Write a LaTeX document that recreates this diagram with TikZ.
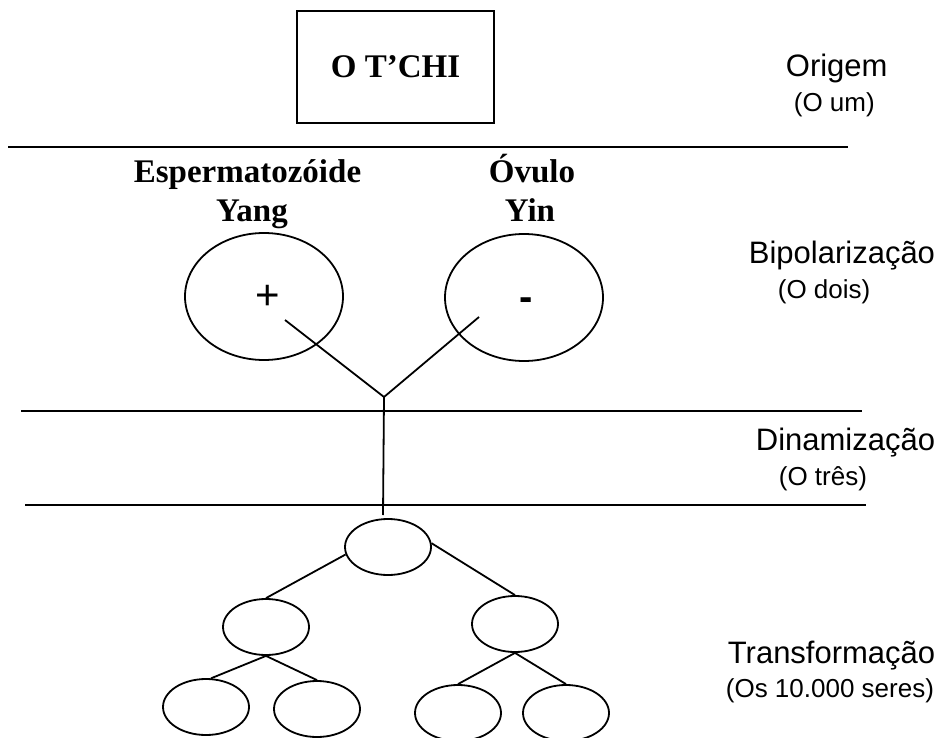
\documentclass[tikz,border=0pt]{standalone}
\usepackage{fontspec}
\setmainfont{Liberation Serif}
\setsansfont{Liberation Sans}
\usetikzlibrary{shapes.geometric, positioning}

\begin{document}
\begin{tikzpicture}[
        x=1pt, y=-1pt,
        line width=1.8pt,
        stage/.style={font=\sffamily\fontsize{31}{34}\selectfont, anchor=base west, inner sep=0pt},
        substage/.style={font=\sffamily\fontsize{26}{30}\selectfont, anchor=base west, inner sep=0pt},
        title/.style={font=\bfseries\fontsize{33}{36}\selectfont, anchor=base, inner sep=0pt},
        gamete/.style={draw, ellipse, minimum width=158pt, minimum height=127pt, inner sep=0pt},
        cell/.style={draw, ellipse, minimum width=86pt, minimum height=56pt, inner sep=0pt}
      ]
      \useasboundingbox (0,0) rectangle (942,738);
      \clip (0,0) rectangle (942,738);

      % Origin
      \node[draw, minimum width=197pt, minimum height=112pt, font=\bfseries\fontsize{33}{36}\selectfont] (tchi) at (395.5,67) {O T’CHI};

      % Separators
      \draw (8,147) -- (848,147);
      \draw (21,411) -- (862,411);
      \draw (25,505) -- (866,505);

      % Gametes
      \node[title] (sperm) at (247.5,183) {Espermatozóide};
      \node[title] (yang) at (252,222) {Yang};
      \node[title] (ovum) at (532,183) {Óvulo};
      \node[title] (yin) at (530,222) {Yin};
      \node[gamete] (plus) at (264,296.5) {};
      \node[gamete] (minus) at (524,297.5) {};
      \node[font=\sffamily\fontsize{42}{42}\selectfont] (plusSign) at (268,297) {+};
      \node[font=\sffamily\bfseries\fontsize{40}{40}\selectfont, anchor=base] (minusSign) at (526,310) {-};

      \coordinate (yangEnd) at (285,320);
      \coordinate (yinEnd) at (479,317);
      \coordinate (junction) at (384,397);
      \coordinate (stem) at (383,515);
      \draw (yangEnd) -- (junction) -- (yinEnd);
      \draw (junction) -- (stem);

      % Tree of beings
      \node[cell] (t0) at (388,547) {};
      \node[cell] (t1) at (266,627) {};
      \node[cell] (t2) at (515,624) {};
      \node[cell] (t3) at (206,707) {};
      \node[cell] (t4) at (317,709) {};
      \node[cell] (t5) at (458,713) {};
      \node[cell] (t6) at (566,713) {};

      \draw (t0.190) -- (t1.north);
      \draw (t0.5) -- (t2.north);
      \draw (t1.south) -- (t3.80);
      \draw (t1.south) -- (t4.north);
      \draw (t2.south) -- (t5.north);
      \draw (t2.south) -- (t6.north);

      % Stages
      \node[stage] (origem) at (785,77) {Origem};
      \node[substage] (um) at (793,112) {(O um)};
      \node[stage] (bipol) at (748,263) {Bipolarização};
      \node[substage] (dois) at (777,298) {(O dois)};
      \node[stage] (dinam) at (755,450) {Dinamização};
      \node[substage] (tres) at (778,485) {(O três)};
      \node[stage] (transf) at (727,663) {Transformação};
      \node[substage] (seres) at (725,697) {(Os 10.000 seres)};
  \end{tikzpicture}
\end{document}
